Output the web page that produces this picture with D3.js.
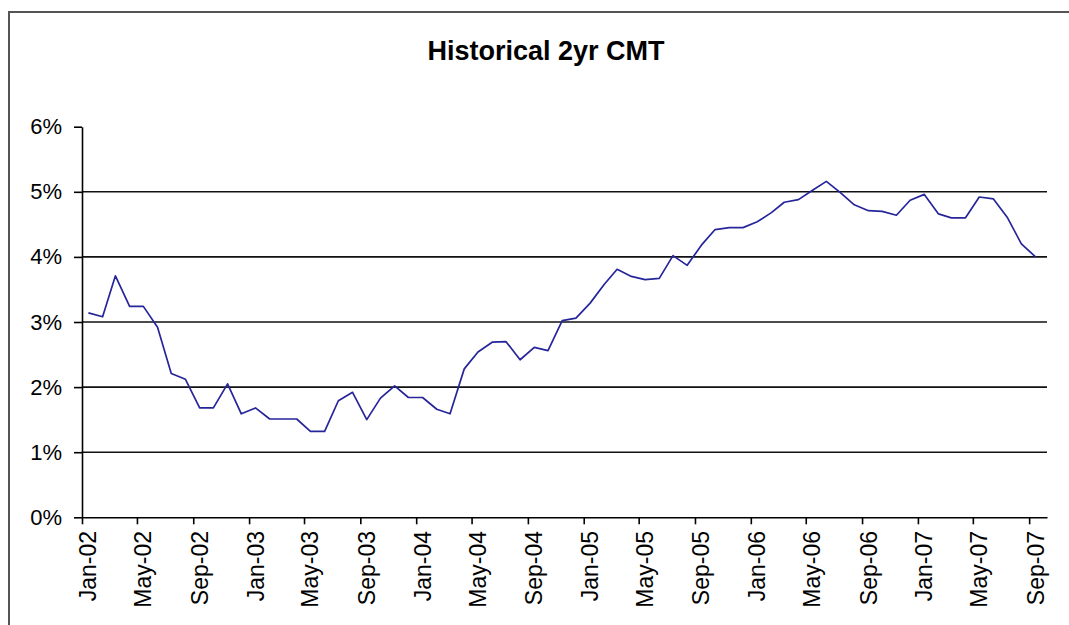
<!DOCTYPE html>
<html><head><meta charset="utf-8">
<script src="https://cdn.jsdelivr.net/npm/d3@7"></script>
<style>
html,body{margin:0;padding:0;background:#fff;}
svg{display:block;font-family:"Liberation Sans",Arial,sans-serif;}
</style>
</head><body>
<svg id="chart" width="1069" height="625"></svg>
<script>
// ---- data ----
const chartTitle = "Historical 2yr CMT";
const firstMonth = "2002-01";           // first monthly observation
const yields = [
  3.14,3.08,3.71,3.24,3.24,2.92,2.21,2.12,1.68,1.68,2.05,1.59,   // 2002
  1.68,1.51,1.51,1.51,1.32,1.32,1.79,1.92,1.50,1.83,2.02,1.84,   // 2003
  1.84,1.66,1.59,2.28,2.54,2.69,2.70,2.42,2.61,2.56,3.02,3.06,   // 2004
  3.29,3.58,3.81,3.70,3.65,3.67,4.02,3.87,4.18,4.42,4.45,4.45,   // 2005
  4.54,4.68,4.84,4.88,5.02,5.16,4.99,4.80,4.71,4.70,4.64,4.87,   // 2006
  4.96,4.66,4.60,4.60,4.92,4.89,4.61,4.20,4.00                   // 2007
];
const xTickLabels = ["Jan-02","May-02","Sep-02","Jan-03","May-03","Sep-03",
  "Jan-04","May-04","Sep-04","Jan-05","May-05","Sep-05","Jan-06","May-06",
  "Sep-06","Jan-07","May-07","Sep-07"];
const yTickValues = [0,1,2,3,4,5,6];
const yTickLabels = ["0%","1%","2%","3%","4%","5%","6%"];
const gridValues = [1,2,3,4,5];
const axisStart = "2002-01-01", axisEnd = "2007-10-10";

(function(){
// ---- layout ----
const plotLeft = 82, plotRight = 1047, plotTop = 126.7, plotBottom = 517.3;
const svg = d3.select("#chart");

const parseDay = d3.timeParse("%Y-%m-%d");
const parseMonth = d3.timeParse("%Y-%m");
const parseTick = d3.timeParse("%b-%y");
const start = parseMonth(firstMonth);
const data = yields.map((v,i)=>{
  const d = d3.timeMonth.offset(start, i);
  return {date: new Date(d.getFullYear(), d.getMonth(), 15), value: v};
});
const tickDates = xTickLabels.map(parseTick);

const x = d3.scaleTime().domain([parseDay(axisStart), parseDay(axisEnd)]).range([plotLeft, plotRight]);
const y = d3.scaleLinear().domain([0,6]).range([plotBottom, plotTop]);

// outer frame
svg.append("rect").attr("x",9).attr("y",12).attr("width",1200).attr("height",800)
  .attr("fill","none").attr("stroke","#555").attr("stroke-width",2);

// title
svg.append("text").attr("x",546).attr("y",60).attr("text-anchor","middle")
  .attr("font-size",27).attr("font-weight","bold").attr("fill","#000").text(chartTitle);

// gridlines
svg.append("g").selectAll("line").data(gridValues).join("line")
  .attr("x1",plotLeft).attr("x2",plotRight)
  .attr("y1",d=>y(d)).attr("y2",d=>y(d))
  .attr("stroke","#111").attr("stroke-width",1.6);

// y axis
const yAxis = svg.append("g").attr("transform",`translate(${plotLeft},0)`)
  .call(d3.axisLeft(y).tickValues(yTickValues).tickSize(8).tickSizeOuter(0).tickPadding(12)
    .tickFormat((d,i)=>yTickLabels[i]));
yAxis.selectAll("path,line").attr("stroke","#000").attr("stroke-width",1.6);
yAxis.selectAll("text").attr("font-size",22).attr("fill","#000")
  .attr("font-family","'Liberation Sans',Arial,sans-serif");

// x axis
const xAxis = svg.append("g").attr("transform",`translate(0,${plotBottom})`)
  .call(d3.axisBottom(x).tickValues(tickDates).tickSize(7).tickSizeOuter(0).tickFormat(""));
xAxis.selectAll("path,line").attr("stroke","#000").attr("stroke-width",1.6);

// x labels (centred on mid-month position, like the data points)
svg.append("g").selectAll("text").data(tickDates).join("text")
  .attr("transform",d=>`translate(${x(new Date(d.getFullYear(),d.getMonth(),15))},531) rotate(-90)`)
  .attr("text-anchor","end").attr("dy","0.35em")
  .attr("font-size",23).attr("fill","#000")
  .text((d,i)=>xTickLabels[i]);

// series line
svg.append("path").datum(data)
  .attr("fill","none").attr("stroke","#26269a").attr("stroke-width",1.7)
  .attr("stroke-linejoin","round")
  .attr("d", d3.line().x(d=>x(d.date)).y(d=>y(d.value)));
})();
</script>
</body></html>
